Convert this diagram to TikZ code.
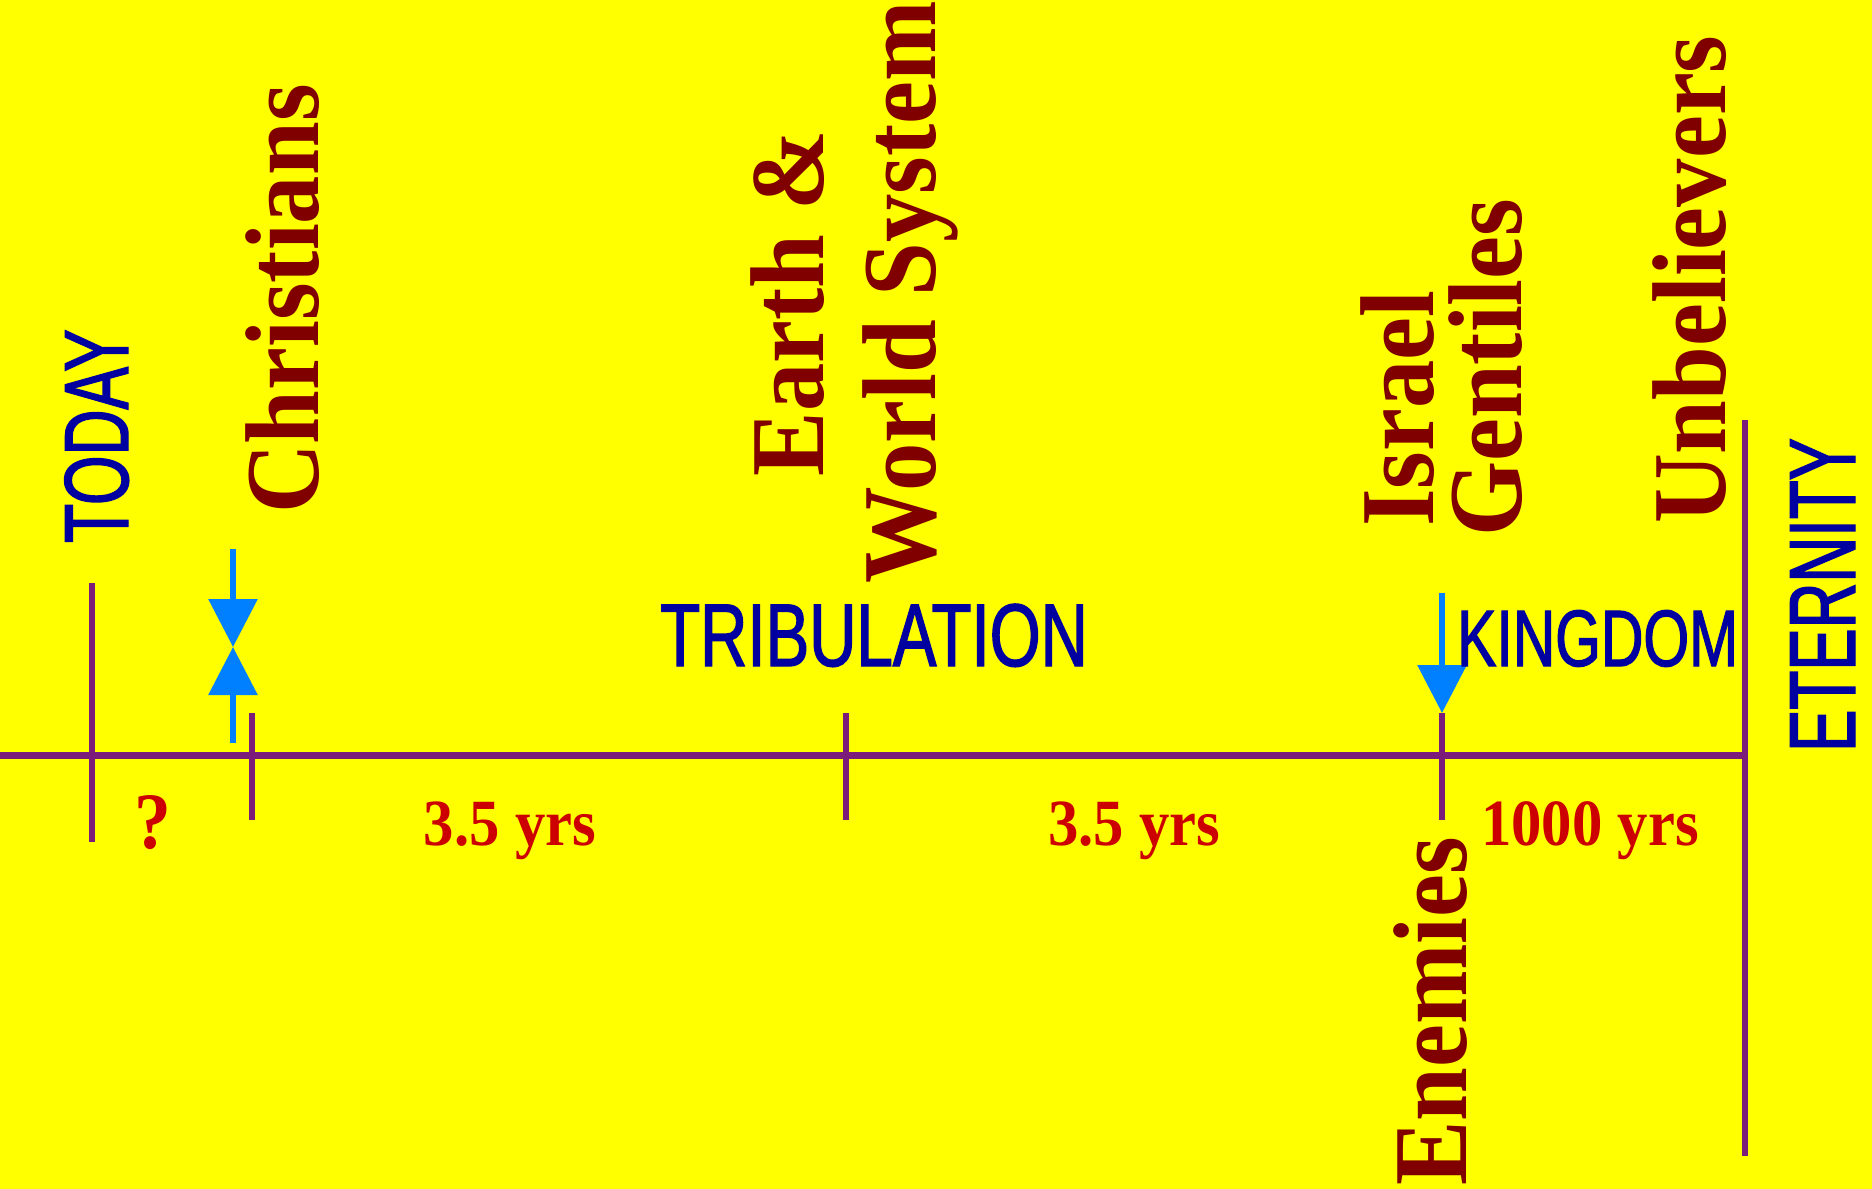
\documentclass[tikz,border=0pt]{standalone}
\usepackage{fontspec}
\setmainfont{Liberation Serif}
\newfontfamily\narrowsans[FakeStretch=0.7,FakeBold=1.5]{Liberation Sans}
\newfontfamily\narrowsansB[FakeStretch=0.735,FakeBold=1.5]{Liberation Sans}
\newfontfamily\narrowsansC[FakeStretch=0.675,FakeBold=1.5]{Liberation Sans}
\newfontfamily\boldserif[FakeStretch=0.92]{Liberation Serif}
\usetikzlibrary{arrows.meta}
\definecolor{bg}{HTML}{FFFF00}
\definecolor{purp}{HTML}{7B1C7B}
\definecolor{maroon}{HTML}{800000}
\definecolor{navyblue}{HTML}{0000A0}
\definecolor{redtxt}{HTML}{CC0000}
\definecolor{lightblue}{HTML}{0080FF}
\begin{document}
\begin{tikzpicture}[x=1pt,y=-1pt,
  axisline/.style={draw=purp,line width=7pt},
  tickline/.style={draw=purp,line width=6pt},
  arrowline/.style={draw=lightblue,line width=6pt,-{Triangle[length=48pt,width=48pt]}},
  era/.style={text=navyblue,inner sep=0pt},
  group/.style={text=maroon,inner sep=0pt,rotate=90,font=\boldserif\bfseries\fontsize{105}{111}\selectfont},
  dur/.style={text=redtxt,inner sep=0pt,font=\boldserif\bfseries\fontsize{66}{66}\selectfont}]
\fill[bg] (0,0) rectangle (1872,1189);
\useasboundingbox (0,0) rectangle (1872,1189);
% axis and ticks
\coordinate (axL) at (0,755);
\coordinate (axR) at (1745,755);
\coordinate (etT) at (1745,420);
\coordinate (etB) at (1745,1156);
\coordinate (tdT) at (92,583);
\coordinate (tdB) at (92,842);
\coordinate (chT) at (252,713);
\coordinate (chB) at (252,820);
\coordinate (mdT) at (846,713);
\coordinate (mdB) at (846,820);
\coordinate (kgT) at (1442,713);
\coordinate (kgB) at (1442,820);
\draw[axisline] (axL) -- (axR);
\draw[tickline] (etT) -- (etB);
\draw[tickline] (tdT) -- (tdB);
\draw[tickline] (chT) -- (chB);
\draw[tickline] (mdT) -- (mdB);
\draw[tickline] (kgT) -- (kgB);
% arrows
\coordinate (raptTop) at (233,549);
\coordinate (raptMid) at (233,647);
\coordinate (raptBot) at (233,743);
\coordinate (kaTop) at (1442,593);
\draw[arrowline] (raptTop) -- (raptMid);
\draw[arrowline] (raptBot) -- (raptMid);
\draw[arrowline] (kaTop) -- (kgT);
% era labels
\node[era,rotate=90,anchor=base west,font=\narrowsans\fontsize{91}{91}\selectfont] (today) at (128,543) {TODAY};
\node[era,anchor=base west,font=\narrowsansB\fontsize{89}{89}\selectfont] (trib) at (660,666) {TRIBULATION};
\node[era,anchor=base west,font=\narrowsansB\fontsize{80}{80}\selectfont] (kingdom) at (1457,666) {KINGDOM};
\node[era,rotate=90,anchor=base west,font=\narrowsansC\fontsize{94}{94}\selectfont] (eternity) at (1855,752) {ETERNITY};
% group labels
\node[group,anchor=base west] (christians) at (318,514) {Christians};
\node[group,anchor=base] (earth) at (823,303) {Earth \&};
\node[group,anchor=base] (world) at (935,292) {World System};
\node[group,anchor=base west] (israel) at (1433,527) {Israel};
\node[group,anchor=base west] (gentiles) at (1521,537) {Gentiles};
\node[group,anchor=base west] (unbel) at (1725,524) {Unbelievers};
\node[group,anchor=base west] (enemies) at (1466,1186) {Enemies};
% durations
\node[dur,anchor=base,font=\boldserif\bfseries\fontsize{80}{80}\selectfont] (q) at (153,848) {?};
\node[dur,anchor=base] (d1) at (510,845) {3.5 yrs};
\node[dur,anchor=base] (d2) at (1134,845) {3.5 yrs};
\node[dur,anchor=base] (d3) at (1590,845) {1000 yrs};
\end{tikzpicture}
\end{document}
